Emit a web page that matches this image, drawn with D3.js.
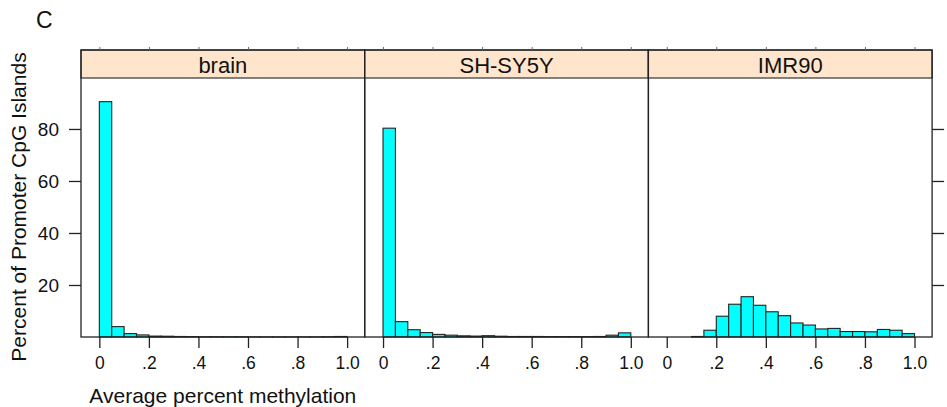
<!DOCTYPE html>
<html>
<head>
<meta charset="utf-8">
<style>
  body { margin: 0; background: #fff; }
  svg { display: block; font-family: "Liberation Sans", Arial, sans-serif; }
</style>
</head>
<body>
<svg width="947" height="407"></svg>
<script src="https://d3js.org/d3.v7.min.js"></script>
<script>

// panels and histogram bins (0.05 wide, 0 to 1.0), percent of islands
var panels = ["brain", "SH-SY5Y", "IMR90"];
var binStarts = d3.range(20).map(function(i) { return i * 0.05; });

var brain  = [90.5, 4.0, 1.3, 0.8, 0.35, 0.3, 0.2, 0.15, 0.1, 0.1, 0.1, 0.1, 0.05, 0.05, 0.05, 0.05, 0.05, 0.05, 0.1, 0.2];
var shsy5y = [80.3, 5.9, 2.8, 1.7, 1.0, 0.7, 0.45, 0.35, 0.5, 0.3, 0.2, 0.2, 0.2, 0.15, 0.15, 0.15, 0.15, 0.2, 0.7, 1.6];
var imr90  = [0, 0, 0.2, 2.6, 8.0, 12.6, 15.5, 12.2, 9.7, 8.2, 5.4, 4.6, 3.1, 3.3, 2.1, 2.1, 2.0, 2.9, 2.6, 1.3];
var series = [brain, shsy5y, imr90];

var xTicks = [0, 0.2, 0.4, 0.6, 0.8, 1.0];
var xTickLabels = ["0", ".2", ".4", ".6", ".8", "1.0"];
var yTicks = [20, 40, 60, 80];

var svg = d3.select("svg");

// note: "top" clashes with window.top, so use other names
var padL = 81, panelW = 283.7, stripTop = 50, stripH = 28, baseY = 337;
var binW = 0.05;

var x = d3.scaleLinear().domain([-0.074, 1.071]).range([0, panelW]);
var y = d3.scaleLinear().domain([0, 99.6]).range([baseY, stripTop + stripH]);

panels.forEach(function(name, p) {
  var g = svg.append("g").attr("transform", "translate(" + (padL + p * panelW) + ",0)");

  // bars
  g.selectAll("rect.bar")
    .data(series[p].map(function(v, i) { return {x0: binStarts[i], v: v}; }))
    .enter().append("rect")
      .attr("class", "bar")
      .attr("x", function(d) { return x(d.x0); })
      .attr("width", function(d) { return x(d.x0 + binW) - x(d.x0); })
      .attr("y", function(d) { return y(d.v); })
      .attr("height", function(d) { return y(0) - y(d.v); })
      .attr("fill", "#00ffff")
      .attr("stroke", "#222")
      .attr("stroke-width", 1.1);

  // strip
  g.append("rect")
      .attr("x", 0).attr("y", stripTop)
      .attr("width", panelW).attr("height", stripH)
      .attr("fill", "#ffe5cc")
      .attr("stroke", "#333").attr("stroke-width", 1.2);
  g.append("text")
      .attr("x", panelW / 2).attr("y", 72.5)
      .attr("text-anchor", "middle")
      .attr("font-size", 22)
      .attr("fill", "#111")
      .text(name);

  // frame
  g.append("rect")
      .attr("x", 0).attr("y", stripTop)
      .attr("width", panelW).attr("height", baseY - stripTop)
      .attr("fill", "none")
      .attr("stroke", "#222").attr("stroke-width", 1.3);

  // bottom axis
  var xb = g.append("g").attr("transform", "translate(0," + baseY + ")")
      .call(d3.axisBottom(x).tickValues(xTicks).tickSize(11).tickPadding(9)
        .tickFormat(function(d, i) { return xTickLabels[i]; }));
  xb.select(".domain").remove();
  xb.selectAll("line").attr("stroke", "#222").attr("stroke-width", 1.3);
  xb.selectAll("text").attr("font-size", 17.5).attr("fill", "#111").attr("font-family", null);

  // top ticks (short, unlabelled)
  var xt = g.append("g").attr("transform", "translate(0," + stripTop + ")")
      .call(d3.axisTop(x).tickValues(xTicks).tickSize(3).tickFormat(""));
  xt.select(".domain").remove();
  xt.selectAll("line").attr("stroke", "#666");

  if (p === 0) {
    var yl = g.append("g")
        .call(d3.axisLeft(y).tickValues(yTicks).tickSize(12).tickPadding(10));
    yl.select(".domain").remove();
    yl.selectAll("line").attr("stroke", "#222").attr("stroke-width", 1.3);
    yl.selectAll("text").attr("font-size", 19).attr("fill", "#111").attr("font-family", null);
  }
  if (p === panels.length - 1) {
    var yr = g.append("g").attr("transform", "translate(" + panelW + ",0)")
        .call(d3.axisRight(y).tickValues(yTicks).tickSize(12).tickFormat(""));
    yr.select(".domain").remove();
    yr.selectAll("line").attr("stroke", "#222").attr("stroke-width", 1.3);
  }
});

// titles
svg.append("text")
    .attr("x", 36).attr("y", 28)
    .attr("font-size", 23)
    .attr("fill", "#111")
    .text("C");

svg.append("text")
    .attr("transform", "translate(26,207) rotate(-90)")
    .attr("text-anchor", "middle")
    .attr("font-size", 21)
    .attr("fill", "#111")
    .text("Percent of Promoter CpG Islands");

svg.append("text")
    .attr("x", padL + panelW / 2).attr("y", 403)
    .attr("text-anchor", "middle")
    .attr("font-size", 21)
    .attr("fill", "#111")
    .text("Average percent methylation");

</script>
</body>
</html>
